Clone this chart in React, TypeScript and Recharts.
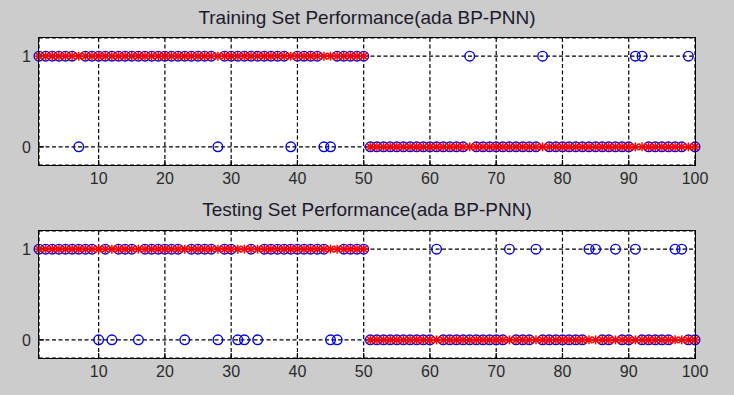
import { ScatterChart, Scatter, XAxis, YAxis, CartesianGrid } from "recharts";

// sample index on the x axis
const sampleIdx = Array.from({ length: 100 }, (_, i) => i + 1);

// true class labels (red *)
const trainTarget = [
  1, 1, 1, 1, 1, 1, 1, 1, 1, 1, 1, 1, 1, 1, 1, 1, 1, 1, 1, 1, 1, 1, 1, 1, 1,
  1, 1, 1, 1, 1, 1, 1, 1, 1, 1, 1, 1, 1, 1, 1, 1, 1, 1, 1, 1, 1, 1, 1, 1, 1,
  0, 0, 0, 0, 0, 0, 0, 0, 0, 0, 0, 0, 0, 0, 0, 0, 0, 0, 0, 0, 0, 0, 0, 0, 0,
  0, 0, 0, 0, 0, 0, 0, 0, 0, 0, 0, 0, 0, 0, 0, 0, 0, 0, 0, 0, 0, 0, 0, 0, 0,
];
const testTarget = [
  1, 1, 1, 1, 1, 1, 1, 1, 1, 1, 1, 1, 1, 1, 1, 1, 1, 1, 1, 1, 1, 1, 1, 1, 1,
  1, 1, 1, 1, 1, 1, 1, 1, 1, 1, 1, 1, 1, 1, 1, 1, 1, 1, 1, 1, 1, 1, 1, 1, 1,
  0, 0, 0, 0, 0, 0, 0, 0, 0, 0, 0, 0, 0, 0, 0, 0, 0, 0, 0, 0, 0, 0, 0, 0, 0,
  0, 0, 0, 0, 0, 0, 0, 0, 0, 0, 0, 0, 0, 0, 0, 0, 0, 0, 0, 0, 0, 0, 0, 0, 0,
];

// network output (blue o)
const trainPred = [
  1, 1, 1, 1, 1, 1, 0, 1, 1, 1, 1, 1, 1, 1, 1, 1, 1, 1, 1, 1, 1, 1, 1, 1, 1,
  1, 1, 0, 1, 1, 1, 1, 1, 1, 1, 1, 1, 1, 0, 1, 1, 1, 1, 0, 0, 1, 1, 1, 1, 1,
  0, 0, 0, 0, 0, 0, 0, 0, 0, 0, 0, 0, 0, 0, 0, 1, 0, 0, 0, 0, 0, 0, 0, 0, 0,
  0, 1, 0, 0, 0, 0, 0, 0, 0, 0, 0, 0, 0, 0, 0, 1, 1, 0, 0, 0, 0, 0, 0, 1, 0,
];
const testPred = [
  1, 1, 1, 1, 1, 1, 1, 1, 1, 0, 1, 0, 1, 1, 1, 0, 1, 1, 1, 1, 1, 1, 0, 1, 1,
  1, 1, 0, 1, 1, 0, 0, 1, 0, 1, 1, 1, 1, 1, 1, 1, 1, 1, 1, 0, 0, 1, 1, 1, 1,
  0, 0, 0, 0, 0, 0, 0, 0, 0, 0, 1, 0, 0, 0, 0, 0, 0, 0, 0, 0, 0, 1, 0, 0, 0,
  1, 0, 0, 0, 0, 0, 0, 0, 1, 1, 0, 0, 1, 0, 0, 1, 0, 0, 0, 0, 0, 1, 1, 0, 0,
];

const xTicks = [10, 20, 30, 40, 50, 60, 70, 80, 90, 100];
const yTicks = [0, 1];

const FONT = "'Liberation Sans', Arial, sans-serif";
const tickStyle = { fontSize: 16, fill: "#2a2a2a", fontFamily: FONT };

function Star(props: any) {
  const { cx, cy } = props;
  const r = 4.5;
  const d = r * 0.72;
  return (
    <g stroke="#ff0000" strokeWidth={1.5}>
      <line x1={cx - r} y1={cy} x2={cx + r} y2={cy} />
      <line x1={cx} y1={cy - r} x2={cx} y2={cy + r} />
      <line x1={cx - d} y1={cy - d} x2={cx + d} y2={cy + d} />
      <line x1={cx - d} y1={cy + d} x2={cx + d} y2={cy - d} />
    </g>
  );
}

function Ring(props: any) {
  const { cx, cy } = props;
  return <circle cx={cx} cy={cy} r={4.8} fill="none" stroke="#0000ee" strokeWidth={1.4} />;
}

function PerfPlot({ target, pred, top, height }: { target: number[]; pred: number[]; top: number; height: number }) {
  const targetData = sampleIdx.map((x, i) => ({ x, y: target[i] }));
  const predData = sampleIdx.map((x, i) => ({ x, y: pred[i] }));
  return (
    <div style={{ position: "relative", width: 734, height }}>
      <ScatterChart width={734} height={height} margin={{ top, right: 39, left: 9, bottom: 0 }}>
        <CartesianGrid stroke="#000" strokeWidth={1.2} strokeDasharray="4 2.5" fill="#ffffff" fillOpacity={1} />
        <XAxis
          type="number"
          dataKey="x"
          domain={[1, 100]}
          ticks={xTicks}
          height={30}
          tick={tickStyle}
          tickLine={{ stroke: "#000", strokeWidth: 1.2 }}
          tickSize={-5}
          tickMargin={13}
          axisLine={false}
          interval={0}
        />
        <YAxis
          type="number"
          dataKey="y"
          domain={[-0.2, 1.2]}
          ticks={yTicks}
          width={30}
          tick={tickStyle}
          tickLine={{ stroke: "#000", strokeWidth: 1.2 }}
          tickSize={-5}
          tickMargin={13}
          axisLine={false}
          interval={0}
        />
        <Scatter data={predData} shape={<Ring />} isAnimationActive={false} />
        <Scatter data={targetData} shape={<Star />} isAnimationActive={false} />
      </ScatterChart>
      {/* axes box */}
      <div
        style={{
          position: "absolute",
          left: 38,
          top: top - 1,
          width: 656,
          height: 127,
          border: "1.5px solid #000",
          pointerEvents: "none",
        }}
      />
    </div>
  );
}

export default function App() {
  const titleStyle: React.CSSProperties = {
    position: "absolute",
    left: 0,
    width: 734,
    textAlign: "center",
    fontFamily: FONT,
    fontSize: 19,
    color: "#1c1a2c",
    lineHeight: "22px",
  };
  return (
    <div style={{ position: "fixed", left: 0, top: 0, width: 734, height: 395, background: "#cccccc", overflow: "hidden" }}>
      <div style={{ position: "absolute", left: 0, top: 0 }}>
        <PerfPlot target={trainTarget} pred={trainPred} top={38} height={195} />
      </div>
      <div style={{ position: "absolute", left: 0, top: 195 }}>
        <PerfPlot target={testTarget} pred={testPred} top={36} height={193} />
      </div>
      <div style={{ ...titleStyle, top: 7 }}>Training Set Performance(ada BP-PNN)</div>
      <div style={{ ...titleStyle, top: 199 }}>Testing Set Performance(ada BP-PNN)</div>
    </div>
  );
}
